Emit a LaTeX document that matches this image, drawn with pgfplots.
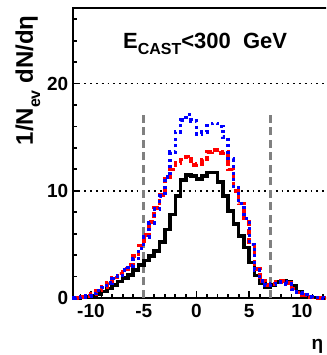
\documentclass[border=0pt]{standalone}
\usepackage{fontspec}
\setmainfont{Liberation Sans}
\usepackage{pgfplots}
\pgfplotsset{compat=1.18}
\usepackage{pgfplotstable}
\definecolor{myred}{RGB}{255,0,0}
\definecolor{myblue}{RGB}{0,0,255}
\definecolor{mygray}{RGB}{128,128,128}

\pgfplotstableread{
eta black blue red
-11.75 0 0 0
-11.25 0 0.02 0.02
-10.75 0.05 0.1 0.1
-10.25 0.1 0.2 0.2
-9.75 0.2 0.4 0.4
-9.25 0.35 0.7 0.7
-8.75 0.6 1.0 1.05
-8.25 0.9 1.4 1.45
-7.75 1.2 1.8 1.9
-7.25 1.55 2.1 2.3
-6.75 1.85 2.6 2.7
-6.25 2.15 3.0 3.1
-5.75 2.6 3.7 3.9
-5.25 3.1 4.6 4.9
-4.75 3.5 5.7 5.9
-4.25 3.9 7.0 7.1
-3.75 4.4 8.3 8.4
-3.25 5.2 9.5 9.6
-2.75 6.4 11.3 11.3
-2.25 7.8 13.6 12.0
-1.75 9.5 15.5 12.6
-1.25 11.0 16.6 12.9
-0.75 11.5 17.1 13.2
-0.25 11.4 16.5 12.4
0.25 11.1 15.3 12.5
0.75 11.4 15.5 12.9
1.25 11.7 16.1 13.6
1.75 11.7 16.3 13.8
2.25 10.8 16.0 13.5
2.75 9.5 15.0 13.6
3.25 8.1 13.0 12.0
3.75 6.9 10.3 10.0
4.25 5.8 8.8 8.8
4.75 4.7 7.4 7.4
5.25 3.3 5.0 5.0
5.75 2.1 2.6 2.7
6.25 1.4 1.6 1.6
6.75 1.0 1.2 1.2
7.25 1.2 1.3 1.3
7.75 1.5 1.5 1.5
8.25 1.6 1.5 1.6
8.75 1.5 1.3 1.4
9.25 1.1 0.8 0.9
9.75 0.6 0.5 0.5
10.25 0.3 0.3 0.3
10.75 0.15 0.1 0.1
11.25 0.05 0.05 0.05
11.75 0.02 0.02 0.02
12.25 0 0 0
}\datatable

\begin{document}
\begin{tikzpicture}
\clip (0,0) rectangle (326pt,355pt);
\begin{axis}[
  at={(72.7pt,57pt)}, anchor=south west,
  scale only axis, width=260.9pt, height=290pt,
  xmin=-11.73, xmax=13, ymin=0, ymax=27.05,
  clip=false,
  axis line style={black, line width=2.2pt},
  xtick={-10,-5,0,5,10},
  minor xtick={-11,-9,-8,-7,-6,-4,-3,-2,-1,1,2,3,4,6,7,8,9,11,12},
  ytick={0,10,20},
  minor ytick={2,4,6,8,12,14,16,18,22,24,26},
  xtick pos=bottom, ytick pos=left,
  major tick length=7pt, minor tick length=4pt,
  tick style={black, line width=1.8pt},
  /pgf/number format/assume math mode=true,
  tick label style={font=\fontsize{19}{19}\selectfont\bfseries},
  xticklabel style={yshift=-3pt},
  yticklabel style={xshift=-1pt},
]
\addplot[black, line width=1.8pt, dash pattern=on 1.8pt off 4pt] coordinates {(-11.73,10) (12.4,10)};
\addplot[black, line width=1.8pt, dash pattern=on 1.8pt off 4pt] coordinates {(-11.73,20) (12.4,20)};
\addplot[mygray, line width=3.2pt, dash pattern=on 8pt off 4.5pt] coordinates {(-5,0) (-5,17.2)};
\addplot[mygray, line width=3.2pt, dash pattern=on 8pt off 4.5pt] coordinates {(7,0) (7,17.2)};
\addplot[black, line width=3.6pt, const plot mark mid] table[x=eta, y=black] {\datatable};
\addplot[myred, line width=3.6pt, const plot mark mid, dash pattern=on 6pt off 3pt] table[x=eta, y=red] {\datatable};
\addplot[myblue, line width=3.4pt, const plot mark mid, dash pattern=on 3pt off 3.5pt] table[x=eta, y=blue] {\datatable};
\node[anchor=base west, font=\fontsize{22}{22}\selectfont\bfseries, inner sep=0pt] at (axis cs:-6.97,23.3)
  {E\raisebox{-0.3em}{\fontsize{16}{16}\selectfont CAST}<300\ \ GeV};
\node[anchor=base, rotate=90, font=\fontsize{24}{24}\selectfont\bfseries, inner sep=0pt] at (axis cs:-15.5,20.3)
  {1/N\raisebox{-0.3em}{\fontsize{16}{16}\selectfont ev} dN/dη};
\node[anchor=center, font=\fontsize{19}{19}\selectfont\bfseries, inner sep=0pt] at (axis cs:11.47,-4.48) {η};
\end{axis}
\end{tikzpicture}
\end{document}
